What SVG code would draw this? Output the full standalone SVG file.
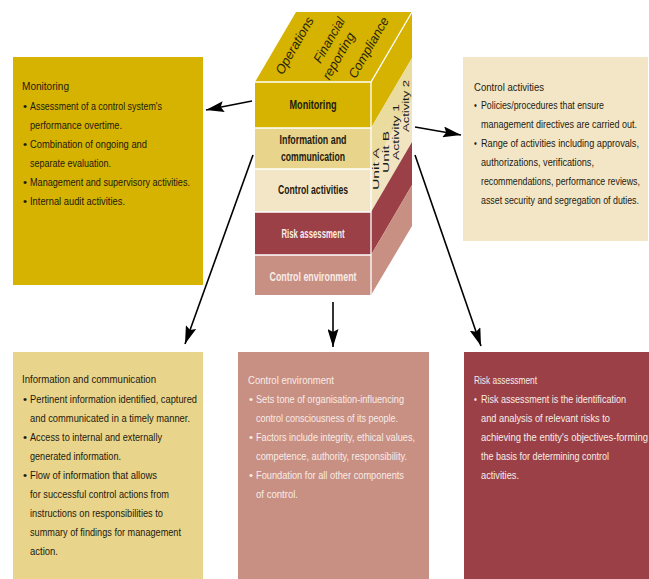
<svg xmlns="http://www.w3.org/2000/svg" width="649" height="579" viewBox="0 0 649 579">
<defs>
<style>
.t{font-family:"Liberation Sans Narrow","Liberation Sans","DejaVu Sans Condensed",sans-serif;font-size:11.5px;}
.dark{fill:#1e1a10;}
.light{fill:#f8ece6;}
.cl{font-family:"Liberation Sans Narrow","Liberation Sans",sans-serif;font-size:12px;font-weight:bold;text-anchor:middle;}
.side{font-family:"Liberation Sans","DejaVu Sans",sans-serif;font-size:9.5px;fill:#1a1a1a;text-anchor:middle;}
.top{font-family:"Liberation Sans Narrow","Liberation Sans",sans-serif;font-size:13px;font-style:italic;fill:#2a2406;text-anchor:middle;}
.edge{stroke:#ffffff;stroke-width:1.3;fill:none;}
.conn{stroke:#000;stroke-width:1.6;fill:none;marker-end:url(#ah);}
</style>
<marker id="ah" markerUnits="userSpaceOnUse" markerWidth="19" markerHeight="11" refX="18" refY="5.5" orient="auto">
<path d="M0,0 L18,5.5 L0,11 L3,5.5 z" fill="#000"/>
</marker>
</defs>
<rect width="649" height="579" fill="#ffffff"/>

<g id="cube">
<polygon points="255,82 296,12 412,12 371,82" fill="#d5b300"/>
<rect x="255" y="82" width="116" height="46" fill="#d5b300"/>
<rect x="255" y="128" width="116" height="41" fill="#e8d48b"/>
<rect x="255" y="169" width="116" height="43" fill="#f3e6c6"/>
<rect x="255" y="212" width="116" height="43" fill="#9a4046"/>
<rect x="255" y="255" width="116" height="40" fill="#c88f83"/>
<polygon points="371,82 412,12 412,58 371,128" fill="#d5b300"/>
<polygon points="371,128 412,58 412,99 371,169" fill="#eadb9e"/>
<polygon points="371,169 412,99 412,142 371,212" fill="#f1e4c0"/>
<polygon points="371,212 412,142 412,185 371,255" fill="#9a4046"/>
<polygon points="371,255 412,185 412,226 371,295" fill="#c88f83"/>
<path class="edge" d="M255,82 L371,82 L412,12 M371,82 L371,295 M255,128 L371,128 M255,169 L371,169 M255,212 L371,212 M255,255 L371,255"/>
<text class="top" transform="translate(294.5,45.5) rotate(-60)" y="4.5" textLength="64" lengthAdjust="spacingAndGlyphs">Operations</text>
<text class="top" transform="translate(329,40) rotate(-60)" y="4.5" textLength="50" lengthAdjust="spacingAndGlyphs">Financial</text>
<text class="top" transform="translate(338.5,56) rotate(-60)" y="4.5" textLength="52" lengthAdjust="spacingAndGlyphs">reporting</text>
<text class="top" transform="translate(368.5,47.5) rotate(-60)" y="4.5" textLength="68" lengthAdjust="spacingAndGlyphs">Compliance</text>
<text class="side" transform="translate(375,169) rotate(-90)" y="3.5" textLength="42" lengthAdjust="spacingAndGlyphs">Unit A</text>
<text class="side" transform="translate(385,152) rotate(-90)" y="3.5" textLength="42" lengthAdjust="spacingAndGlyphs">Unit B</text>
<text class="side" transform="translate(395,132) rotate(-90)" y="3.5" textLength="56" lengthAdjust="spacingAndGlyphs">Activity 1</text>
<text class="side" transform="translate(405,106) rotate(-90)" y="3.5" textLength="52" lengthAdjust="spacingAndGlyphs">Activity 2</text>
<text class="cl dark" x="313" y="109" textLength="47" lengthAdjust="spacingAndGlyphs">Monitoring</text>
<text class="cl dark" x="313" y="144" textLength="67" lengthAdjust="spacingAndGlyphs">Information and</text>
<text class="cl dark" x="313" y="161" textLength="64" lengthAdjust="spacingAndGlyphs">communication</text>
<text class="cl dark" x="313" y="194" textLength="70" lengthAdjust="spacingAndGlyphs">Control activities</text>
<text class="cl light" x="313" y="238" textLength="63" lengthAdjust="spacingAndGlyphs">Risk assessment</text>
<text class="cl light" x="313" y="281" textLength="87" lengthAdjust="spacingAndGlyphs">Control environment</text>
</g>

<g id="connectors">
<line class="conn" x1="252" y1="101" x2="206" y2="110"/>
<line class="conn" x1="415" y1="127" x2="461" y2="135"/>
<line class="conn" x1="253" y1="155" x2="185" y2="344"/>
<line class="conn" x1="333" y1="302" x2="333" y2="347"/>
<line class="conn" x1="415" y1="155" x2="481" y2="346"/>
</g>

<g id="monitoring">
<rect x="13" y="57" width="190" height="228" fill="#d5b300"/>
<g class="t dark">
<text x="22" y="90" textLength="47" lengthAdjust="spacingAndGlyphs">Monitoring</text>
<text x="23" y="110">•</text><text x="30" y="110" textLength="132" lengthAdjust="spacingAndGlyphs">Assessment of a control system's</text>
<text x="30" y="129" textLength="92" lengthAdjust="spacingAndGlyphs">performance overtime.</text>
<text x="23" y="148">•</text><text x="30" y="148" textLength="117" lengthAdjust="spacingAndGlyphs">Combination of ongoing and</text>
<text x="30" y="167" textLength="81" lengthAdjust="spacingAndGlyphs">separate evaluation.</text>
<text x="23" y="186">•</text><text x="30" y="186" textLength="160" lengthAdjust="spacingAndGlyphs">Management and supervisory activities.</text>
<text x="23" y="205">•</text><text x="30" y="205" textLength="95" lengthAdjust="spacingAndGlyphs">Internal audit activities.</text>
</g>
</g>

<g id="control-activities">
<rect x="463" y="57" width="185" height="184" fill="#f3e6c6"/>
<g class="t dark" transform="translate(474,0) scale(0.7,1)">
<text x="0" y="91" textLength="100" lengthAdjust="spacingAndGlyphs">Control activities</text>
<text x="0" y="109">•</text><text x="10" y="109" textLength="175.7" lengthAdjust="spacingAndGlyphs">Policies/procedures that ensure</text>
<text x="10" y="128" textLength="222.9" lengthAdjust="spacingAndGlyphs">management directives are carried out.</text>
<text x="0" y="147">•</text><text x="10" y="147" textLength="225.7" lengthAdjust="spacingAndGlyphs">Range of activities including approvals,</text>
<text x="10" y="166" textLength="161.4" lengthAdjust="spacingAndGlyphs">authorizations, verifications,</text>
<text x="10" y="185" textLength="227.1" lengthAdjust="spacingAndGlyphs">recommendations, performance reviews,</text>
<text x="10" y="204" textLength="225.7" lengthAdjust="spacingAndGlyphs">asset security and segregation of duties.</text>
</g>
</g>

<g id="information-communication">
<rect x="13" y="352" width="190" height="227" fill="#e8d48b"/>
<g class="t dark">
<text x="22" y="383" textLength="134" lengthAdjust="spacingAndGlyphs">Information and communication</text>
<text x="23" y="403">•</text><text x="30" y="403" textLength="167" lengthAdjust="spacingAndGlyphs">Pertinent information identified, captured</text>
<text x="30" y="422" textLength="160" lengthAdjust="spacingAndGlyphs">and communicated in a timely manner.</text>
<text x="23" y="441">•</text><text x="30" y="441" textLength="132" lengthAdjust="spacingAndGlyphs">Access to internal and externally</text>
<text x="30" y="460" textLength="91" lengthAdjust="spacingAndGlyphs">generated information.</text>
<text x="23" y="479">•</text><text x="30" y="479" textLength="127" lengthAdjust="spacingAndGlyphs">Flow of information that allows</text>
<text x="30" y="498" textLength="139" lengthAdjust="spacingAndGlyphs">for successful control actions from</text>
<text x="30" y="517" textLength="133" lengthAdjust="spacingAndGlyphs">instructions on responsibilities to</text>
<text x="30" y="536" textLength="151" lengthAdjust="spacingAndGlyphs">summary of findings for management</text>
<text x="30" y="555" textLength="28" lengthAdjust="spacingAndGlyphs">action.</text>
</g>
</g>

<g id="control-environment">
<rect x="238" y="352" width="191" height="227" fill="#c88f83"/>
<g class="t light">
<text x="248" y="384" textLength="86" lengthAdjust="spacingAndGlyphs">Control environment</text>
<text x="249" y="403">•</text><text x="256" y="403" textLength="148" lengthAdjust="spacingAndGlyphs">Sets tone of organisation-influencing</text>
<text x="256" y="422" textLength="142" lengthAdjust="spacingAndGlyphs">control consciousness of its people.</text>
<text x="249" y="441">•</text><text x="256" y="441" textLength="159" lengthAdjust="spacingAndGlyphs">Factors include integrity, ethical values,</text>
<text x="256" y="460" textLength="151" lengthAdjust="spacingAndGlyphs">competence, authority, responsibility.</text>
<text x="249" y="479">•</text><text x="256" y="479" textLength="148" lengthAdjust="spacingAndGlyphs">Foundation for all other components</text>
<text x="256" y="498" textLength="42" lengthAdjust="spacingAndGlyphs">of control.</text>
</g>
</g>

<g id="risk-assessment">
<rect x="464" y="352" width="185" height="227" fill="#9a4046"/>
<g class="t light" transform="translate(474,0) scale(0.7,1)">
<text x="0" y="384" textLength="90" lengthAdjust="spacingAndGlyphs">Risk assessment</text>
<text x="0" y="403">•</text><text x="10" y="403" textLength="207.1" lengthAdjust="spacingAndGlyphs">Risk assessment is the identification</text>
<text x="10" y="422" textLength="184.3" lengthAdjust="spacingAndGlyphs">and analysis of relevant risks to</text>
<text x="10" y="441" textLength="238.6" lengthAdjust="spacingAndGlyphs">achieving the entity's objectives-forming</text>
<text x="10" y="460" textLength="182.9" lengthAdjust="spacingAndGlyphs">the basis for determining control</text>
<text x="10" y="479" textLength="54.3" lengthAdjust="spacingAndGlyphs">activities.</text>
</g>
</g>
</svg>
